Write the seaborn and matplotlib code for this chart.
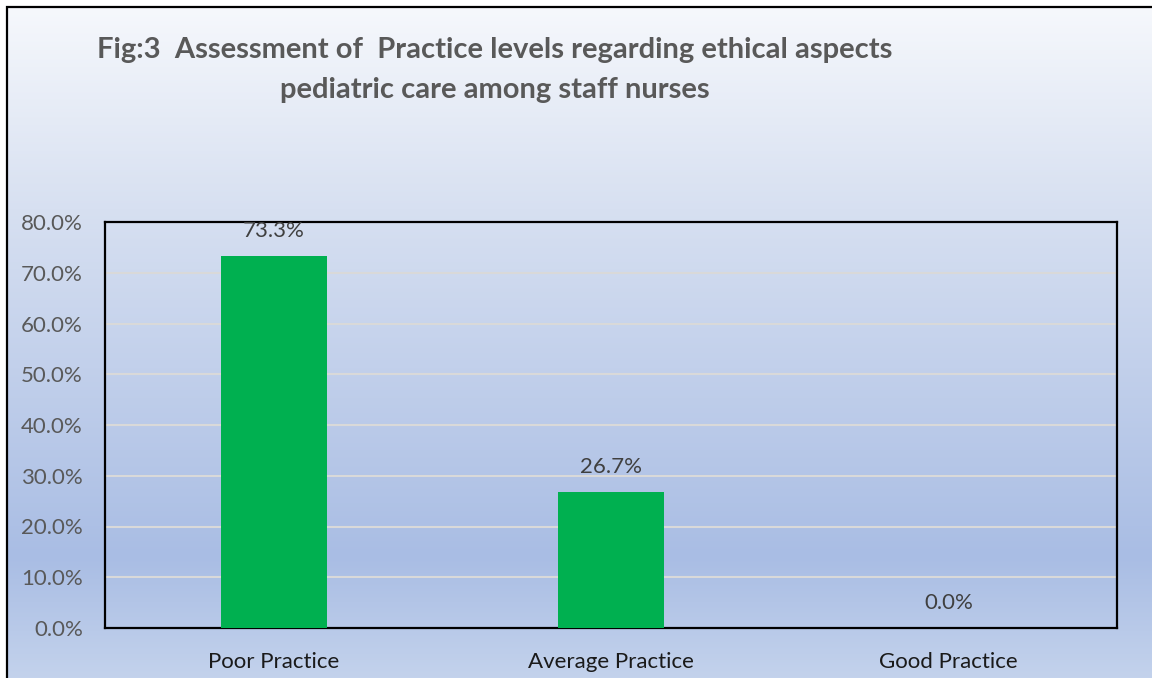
import numpy as np
import pandas as pd
import matplotlib
matplotlib.use("Agg")
import matplotlib.pyplot as plt
from matplotlib.colors import LinearSegmentedColormap
from matplotlib.patches import Rectangle
import seaborn as sns

# Chart data
categories = ["Poor Practice", "Average Practice", "Good Practice"]
practice_pct = [73.3, 26.7, 0.0]
ytick_values = [0, 10, 20, 30, 40, 50, 60, 70, 80]

title_line1 = "Fig:3  Assessment of  Practice levels regarding ethical aspects"
title_line2 = "pediatric care among staff nurses"

sns.set_style("white")
plt.rcParams["font.family"] = ["Lato", "DejaVu Sans"]

df = pd.DataFrame({"category": categories, "pct": practice_pct})

W, H = 1152, 678
fig = plt.figure(figsize=(W / 100, H / 100), dpi=100)
fig.patch.set_facecolor("white")

# Excel-like vertical gradient background inside the chart frame
bg = fig.add_axes([7 / W, 0, 1 - 7 / W, 1 - 7 / H], zorder=0)
grad_cmap = LinearSegmentedColormap.from_list(
    "chart_bg",
    [(0.0, "#C3D2EC"), (0.18, "#A9BDE4"), (0.70, "#D7E0F1"), (1.0, "#F6F8FC")],
)
bg.imshow(np.linspace(0, 1, 256).reshape(-1, 1), aspect="auto", cmap=grad_cmap,
          origin="lower", extent=[0, 1, 0, 1])
bg.set_axis_off()

# Chart border (left and top edges visible in the reference)
fig.patches.append(Rectangle((7 / W, -0.01), 1.0, 1 - 7 / H + 0.01,
                             transform=fig.transFigure, fill=False,
                             edgecolor="black", linewidth=1.6, zorder=5))

ax = fig.add_axes([105 / W, 1 - 628 / H, (1117 - 105) / W, (628 - 222) / H], zorder=2)
ax.patch.set_alpha(0)

sns.barplot(data=df, x="category", y="pct", color="#00B050", width=0.315,
            saturation=1, linewidth=0, ax=ax, zorder=3)

ax.set_ylim(0, 80)
ax.set_xlim(-0.5, 2.5)
ax.set_yticks(ytick_values)
ax.set_yticklabels([f"{v:.1f}%" for v in ytick_values])
ax.tick_params(axis="y", length=0, pad=16, labelsize=16, labelcolor="#595959")
ax.tick_params(axis="x", length=0, pad=17, labelsize=16, labelcolor="#1a1a1a")
ax.set_xlabel("")
ax.set_ylabel("")

for v in ytick_values[1:-1]:
    ax.axhline(v, color="#D9D9D9", linewidth=1.5, zorder=1)

for s in ax.spines.values():
    s.set_visible(True)
    s.set_color("black")
    s.set_linewidth(1.6)

for i, v in enumerate(practice_pct):
    ax.annotate(f"{v:.1f}%", xy=(i, v), xytext=(0, 18), textcoords="offset points",
                ha="center", va="center", fontsize=16, color="#404040")

fig.text(97 / W, 1 - 50 / H, title_line1, ha="left", va="center",
         fontsize=21, fontweight="bold", color="#595959")
fig.text(280 / W, 1 - 90 / H, title_line2, ha="left", va="center",
         fontsize=21, fontweight="bold", color="#595959")

fig.savefig("out.png", dpi=100)
